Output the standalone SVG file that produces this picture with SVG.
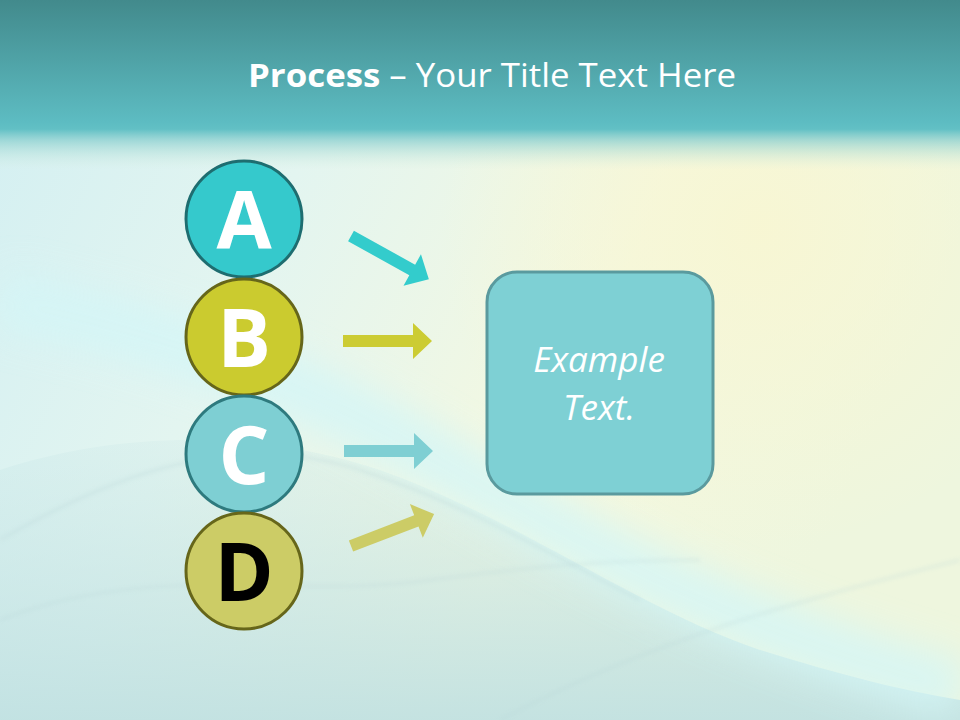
<svg xmlns="http://www.w3.org/2000/svg" width="960" height="720" viewBox="0 0 960 720">
  <defs>
    <linearGradient id="bgH" x1="0" y1="0" x2="1" y2="0.35">
      <stop offset="0" stop-color="#d2eff2"/>
      <stop offset="0.35" stop-color="#e3f5f0"/>
      <stop offset="0.7" stop-color="#f4f8e0"/>
      <stop offset="1" stop-color="#eef6de"/>
    </linearGradient>
    <linearGradient id="topBand" x1="0" y1="0" x2="0" y2="1">
      <stop offset="0" stop-color="#428a8c"/>
      <stop offset="0.72" stop-color="#5dbcc2"/>
      <stop offset="0.76" stop-color="#62c0c5"/>
      <stop offset="0.82" stop-color="#8cd0d0" stop-opacity="0.8"/>
      <stop offset="1" stop-color="#d8eedf" stop-opacity="0"/>
    </linearGradient>
    <radialGradient id="glow" cx="760" cy="230" r="320" gradientUnits="userSpaceOnUse">
      <stop offset="0" stop-color="#f8f6d2" stop-opacity="0.9"/>
      <stop offset="1" stop-color="#f8f6d2" stop-opacity="0"/>
    </radialGradient>
    <linearGradient id="lowTeal" x1="0" y1="0" x2="0" y2="1">
      <stop offset="0" stop-color="#c4e4e5" stop-opacity="0.2"/>
      <stop offset="1" stop-color="#bfe0e1" stop-opacity="0.9"/>
    </linearGradient>
    <filter id="blur" x="-20%" y="-20%" width="140%" height="140%">
      <feGaussianBlur stdDeviation="18"/>
    </filter>
    <filter id="blurS" x="-10%" y="-10%" width="120%" height="120%">
      <feGaussianBlur stdDeviation="2"/>
    </filter>
    <path id="arrow" d="M0,-6 L70,-6 L70,-18 L89,0 L70,18 L70,6 L0,6 Z"/>
  </defs>
  <style>
    .title { font-family: "Open Sans", "Liberation Sans", sans-serif; font-size: 32px; fill: #ffffff; }
    .letter { font-family: "Open Sans", "Liberation Sans", sans-serif; font-size: 80px; font-weight: bold; text-anchor: middle; }
    .body { font-family: "Open Sans", "Liberation Sans", sans-serif; font-size: 35px; font-style: italic; fill: #ffffff; text-anchor: middle; }
    .circ { stroke-width: 3; }
  </style>

  <!-- background -->
  <rect x="0" y="0" width="960" height="720" fill="url(#bgH)"/>
  <rect x="0" y="0" width="960" height="720" fill="url(#glow)"/>
  <path d="M0,470 C120,430 260,430 380,470 C520,520 640,610 760,650 C840,675 900,690 960,700 L960,720 L0,720 Z" fill="url(#lowTeal)"/>
  <path d="M0,300 C150,330 300,380 420,450 C560,530 700,620 960,690" fill="none" stroke="#d4f6f7" stroke-width="60" opacity="0.8" filter="url(#blur)"/>
  <path d="M0,540 C120,470 240,430 360,470 C470,505 560,560 640,600" fill="none" stroke="#b8d4d6" stroke-width="2" opacity="0.5" filter="url(#blurS)"/>
  <path d="M0,620 C150,560 300,600 430,580 C520,568 600,560 700,560" fill="none" stroke="#b8d4d6" stroke-width="2" opacity="0.4" filter="url(#blurS)"/>
  <path d="M500,720 C650,640 800,600 960,560" fill="none" stroke="#b8d4d6" stroke-width="2" opacity="0.4" filter="url(#blurS)"/>
  <rect x="0" y="0" width="960" height="170" fill="url(#topBand)"/>

  <!-- title -->
  <text class="title" x="492" y="87" text-anchor="middle" textLength="488" lengthAdjust="spacingAndGlyphs"><tspan font-weight="bold">Process</tspan> – Your Title Text Here</text>

  <!-- connectors -->
  <g id="connectors">
    <use href="#arrow" transform="translate(351,236) rotate(29)" fill="#33cccc"/>
    <use href="#arrow" transform="translate(343,341)" fill="#cccc33"/>
    <use href="#arrow" transform="translate(344,451)" fill="#7fcfd3"/>
    <use href="#arrow" transform="translate(351,546) rotate(-21)" fill="#cccc66"/>
  </g>

  <!-- nodes -->
  <g id="node-a">
    <circle class="circ" cx="244" cy="219" r="58" fill="#35c9cc" stroke="#1e6d70"/>
    <text class="letter" x="244" y="249" fill="#ffffff">A</text>
  </g>
  <g id="node-b">
    <circle class="circ" cx="244" cy="337" r="58" fill="#cbcb2f" stroke="#66661a"/>
    <text class="letter" x="244" y="367" fill="#ffffff">B</text>
  </g>
  <g id="node-c">
    <circle class="circ" cx="244" cy="454" r="58" fill="#7ecfd3" stroke="#2e7a7e"/>
    <text class="letter" x="244" y="484" fill="#ffffff">C</text>
  </g>
  <g id="node-d">
    <circle class="circ" cx="244" cy="571" r="58" fill="#cccc66" stroke="#66661a"/>
    <text class="letter" x="244" y="601" fill="#000000">D</text>
  </g>
  <g id="node-box">
    <rect x="487" y="272" width="226" height="222" rx="30" ry="30" fill="#7ed0d4" stroke="#5a9a9e" stroke-width="3"/>
    <text class="body" x="599" y="372">Example</text>
    <text class="body" x="599" y="420">Text.</text>
  </g>
</svg>
